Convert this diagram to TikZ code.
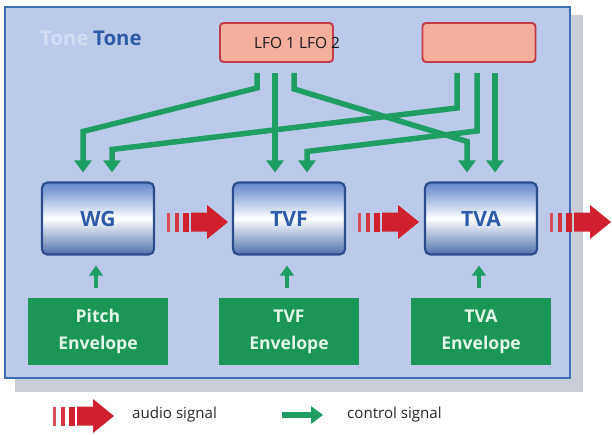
\documentclass[tikz,border=0pt]{standalone}
\usepackage{fontspec}
\setmainfont{Open Sans}
\usetikzlibrary{arrows.meta,calc,positioning}
\definecolor{panelcolor}{HTML}{BCCAEA}
\definecolor{framecolor}{HTML}{3C6DB5}
\definecolor{shadowcolor}{HTML}{C9CDD6}
\definecolor{lfocolor}{HTML}{F4B09C}
\definecolor{lfoframe}{HTML}{C23B48}
\definecolor{ctrlcolor}{HTML}{1F9E63}
\definecolor{envcolor}{HTML}{1B9657}
\definecolor{envtext}{HTML}{E2F6EA}
\definecolor{modcolor}{HTML}{5F84CC}
\definecolor{modframe}{HTML}{2C4C8E}
\definecolor{modtext}{HTML}{2E5BA9}
\definecolor{audiocolor}{HTML}{D0202E}

\begin{document}
\begin{tikzpicture}[x=0.02cm,y=-0.02cm]
  %%Create the styles for the boxes and the arrows
  \tikzset{ctrl arrow/.style={draw,-{Triangle[length=0.24cm,width=0.34cm]},line width=0.11cm,color=ctrlcolor}}
  \tikzset{little arrow/.style={draw,-{Triangle[length=0.2cm,width=0.27cm]},line width=0.08cm,color=ctrlcolor}}
  \tikzset{module/.style={draw=modframe,line width=1.2pt,rounded corners=3pt,minimum width=2.24cm,minimum height=1.44cm,inner sep=0pt,top color=modcolor,bottom color=modcolor!85!black,middle color=white,text=modtext,font=\fontsize{12}{14}\selectfont\bfseries}}
  \tikzset{lfo box/.style={draw=lfoframe,fill=lfocolor,line width=1.1pt,rounded corners=2pt,minimum width=2.26cm,minimum height=0.78cm,inner sep=0pt}}
  \tikzset{envelope/.style={fill=envcolor,minimum width=2.82cm,minimum height=1.34cm,inner sep=0pt,align=center,text=envtext,font=\fontsize{10}{15.3}\selectfont\bfseries}}
  \tikzset{legend/.style={anchor=west,text=black!85,font=\fontsize{8.6}{10}\selectfont}}
  \tikzset{pics/audio arrow/.style={code={
    \fill[audiocolor!80] (0,-9.5) rectangle (2.5,9.5);
    \fill[audiocolor!90] (8,-9.5) rectangle (11.5,9.5);
    \fill[audiocolor] (16,-9.5) rectangle (22,9.5);
    \fill[audiocolor] (24,-9.5) -- (40,-9.5) -- (40,-17) -- (61,0) -- (40,17) -- (40,9.5) -- (24,9.5) -- cycle;
  }}}
  \useasboundingbox (0,0) rectangle (612,434);
  %%Panel with its shadow
  \fill[shadowcolor] (15,15) rectangle (583,392);
  \draw[framecolor,fill=panelcolor,line width=1.6pt] (5,7) rectangle (570,378);
  \node[anchor=base west,text=white,opacity=.35,font=\fontsize{11.6}{14}\selectfont\bfseries] (toneghost) at (34,45) {Tone};
  \node[anchor=base west,text=modtext,font=\fontsize{11.6}{14}\selectfont\bfseries] (tonelabel) at (87,45) {Tone};
  %%The two LFO boxes
  \node[lfo box] (lfoa) at (276.5,42.5) {};
  \node[lfo box] (lfob) at (479,42.5) {};
  \node[text=black!90,font=\fontsize{8.8}{10}\selectfont] (lfotext) at (297,43) {LFO 1 LFO 2};
  %%Place the modules and their envelopes using the foreach construct
  \path (98,218.5) coordinate (m1) ++(191,0) coordinate (m2) ++(192,0) coordinate (m3);
  \foreach \in/\name/\txt in {m1/wg/WG,m2/tvf/TVF,m3/tva/TVA}{
    \node[module] (\name) at (\in) {\txt};
  }
  \foreach \name/\txt in {wg/Pitch,tvf/TVF,tva/TVA}{
    \node[envelope,below of=\name,node distance=2.26cm] (env\name) {\txt\\Envelope};
    \path[little arrow] ($(env\name.north)+(-2,-10)$) -- ($(\name.south)+(-2,10)$);
  }
  %%Audio signal between the modules
  \foreach \name in {wg,tvf,tva}{
    \pic at ($(\name.east)+(12,3.5)$) {audio arrow};
  }
  %%Drawing the control arrows from the LFOs
  \path[ctrl arrow] ($(lfoa.south)+(-19.5,10)$) -- ++(0,15) -- ($(wg.north)+(-15,-50)$) -- ($(wg.north)+(-15,-9)$);
  \path[ctrl arrow] ($(lfoa.south)+(-1.5,10)$) -- ($(tvf.north)+(-14,-9)$);
  \path[ctrl arrow] ($(lfoa.south)+(17.5,10)$) -- ++(0,16) -- ($(tva.north)+(-14,-40)$) -- ($(tva.north)+(-14,-9)$);
  \path[ctrl arrow] ($(lfob.south)+(-22,10)$) -- ++(0,35) -- ($(wg.north)+(14,-32)$) -- ($(wg.north)+(14,-9)$);
  \path[ctrl arrow] ($(lfob.south)+(-2,10)$) -- ++(0,58) -- ($(tvf.north)+(18,-30)$) -- ($(tvf.north)+(18,-9)$);
  \path[ctrl arrow] ($(lfob.south)+(16,10)$) -- ($(tva.north)+(14,-9)$);
  %%Legend
  \pic at (53,416) {audio arrow};
  \node[legend] (audiotext) at (126,415) {audio signal};
  \coordinate (ctrla) at (282,415);
  \coordinate (ctrlb) at (323,415);
  \path[ctrl arrow] (ctrla) -- (ctrlb);
  \node[legend] (ctrltext) at (341,415) {control signal};
\end{tikzpicture}
\end{document}
